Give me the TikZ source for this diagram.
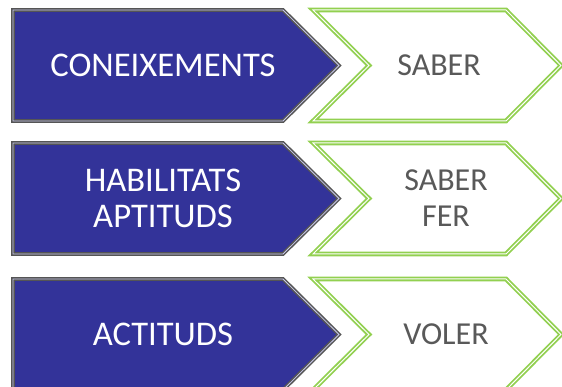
\documentclass[tikz,border=0pt]{standalone}
\usepackage{fontspec}
\setmainfont{Carlito}
\usepackage{tikz}
\usetikzlibrary{calc}
\definecolor{boxblue}{RGB}{51,51,153}
\definecolor{boxgray}{RGB}{85,85,85}
\definecolor{boxlav}{RGB}{200,200,235}
\definecolor{verbgreen}{RGB}{146,208,80}
\definecolor{textgray}{RGB}{89,89,89}
\tikzset{%
        x = 1pt,
        y = 1pt,
        knowbox/.style = {draw = boxgray, double = boxlav, double distance = 0.8pt,
                          line width = 1.5pt, fill = boxblue},
        verbbox/.style = {draw = verbgreen, double = white, double distance = 1pt,
                          line width = 1.8pt, fill = white},
        knowtext/.style = {text = white, align = center, inner sep = 0pt,
                           font = \fontsize{34.6}{36}\selectfont},
        verbtext/.style = {text = textgray, align = center, inner sep = 0pt,
                           font = \fontsize{32}{36}\selectfont}
}

\begin{document}
\begin{tikzpicture}
            \clip (0,0) rectangle (562,387);
            % row 1
            \draw[knowbox] (13,377) -- (283,377) -- (339,321.5) -- (283,266) -- (13,266) -- cycle;
            \draw[verbbox] (313,377) -- (506,377) -- (561,321.5) -- (506,266) -- (313,266) -- (369,321.5) -- cycle;
            \node[knowtext] (coneix) at (163,321.5) {CONEIXEMENTS};
            \node[verbtext] (saber) at (439,321.5) {SABER};
            % row 2
            \draw[knowbox] (13,244) -- (283,244) -- (339,188.5) -- (283,133) -- (13,133) -- cycle;
            \draw[verbbox] (313,244) -- (506,244) -- (561,188.5) -- (506,133) -- (313,133) -- (369,188.5) -- cycle;
            \node[knowtext] (habil) at (163,188.5) {HABILITATS\\APTITUDS};
            \node[verbtext] (saberfer) at (446,188.5) {SABER\\FER};
            % row 3
            \draw[knowbox] (13,108) -- (283,108) -- (339,52.5) -- (283,-3) -- (13,-3) -- cycle;
            \draw[verbbox] (313,108) -- (506,108) -- (561,52.5) -- (506,-3) -- (313,-3) -- (369,52.5) -- cycle;
            \node[knowtext] (actit) at (163,52.5) {ACTITUDS};
            \node[verbtext] (voler) at (446,52.5) {VOLER};
        \end{tikzpicture}
\end{document}
